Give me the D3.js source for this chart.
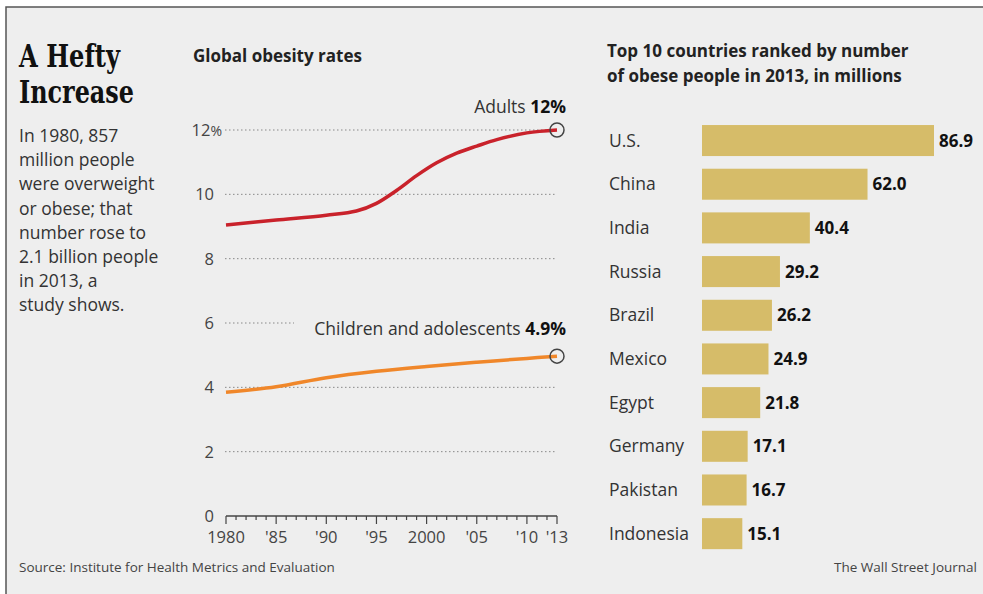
<!DOCTYPE html>
<html>
<head>
<meta charset="utf-8">
<script src="https://d3js.org/d3.v7.min.js"></script>
<style>
  body { margin: 0; background: #fff; }
  svg { display: block; }
  text { font-family: "Open Sans", Roboto, sans-serif; }
</style>
</head>
<body>
<svg id="canvas" width="983" height="594"></svg>
<script>
// line chart data (percent obese, global)
let years = [1980, 1985, 1990, 1993, 1995, 1997, 1999, 2001, 2003, 2005, 2007, 2010, 2013]
let adults = [9.05, 9.2, 9.35, 9.48, 9.72, 10.12, 10.58, 10.98, 11.28, 11.5, 11.7, 11.91, 12.0]
let childYears = [1980, 1985, 1990, 1995, 2000, 2005, 2010, 2013]
let children = [3.85, 4.02, 4.3, 4.5, 4.65, 4.78, 4.9, 4.97]
let yTicks = [0, 2, 4, 6, 8, 10, 12]
let xTicks = [1980, 1985, 1990, 1995, 2000, 2005, 2010, 2013]
let xTickLabels = ['1980', "'85", "'90", "'95", '2000', "'05", "'10", "'13"]

// bar chart data (millions of obese people, 2013)
let countries = ['U.S.', 'China', 'India', 'Russia', 'Brazil', 'Mexico', 'Egypt', 'Germany', 'Pakistan', 'Indonesia']
let obese = [86.9, 62.0, 40.4, 29.2, 26.2, 24.9, 21.8, 17.1, 16.7, 15.1]

let intro = ['In 1980, 857', 'million people', 'were overweight', 'or obese; that',
  'number rose to', '2.1 billion people', 'in 2013, a', 'study shows.']

let canvas = d3.select('#canvas')

// frame
canvas.append('rect').attr('x', 6).attr('y', 7).attr('width', 990).attr('height', 600)
  .attr('fill', '#eeeeee').attr('stroke', '#555').attr('stroke-width', 1.5)

// headline + intro
canvas.append('text').attr('x', 19).attr('y', 67).text('A Hefty')
  .style('font-family', '"DejaVu Serif", serif')
  .attr('textLength', 101).attr('lengthAdjust', 'spacingAndGlyphs')
  .attr('font-weight', 'bold').attr('font-size', 31).attr('fill', '#111')
canvas.append('text').attr('x', 19).attr('y', 103).text('Increase')
  .style('font-family', '"DejaVu Serif", serif')
  .attr('textLength', 115).attr('lengthAdjust', 'spacingAndGlyphs')
  .attr('font-weight', 'bold').attr('font-size', 31).attr('fill', '#111')

canvas.append('g').selectAll('text')
  .data(intro)
  .enter()
  .append('text')
  .attr('x', 19)
  .attr('y', (d, i) => 142 + i * 24.2)
  .attr('font-size', 17.5)
  .attr('fill', '#333')
  .text(d => d)

// ---- line chart ----
let x = d3.scaleLinear().domain([1980, 2013]).range([226, 557])
let y = d3.scaleLinear().domain([0, 12]).range([516, 130])

canvas.append('text').attr('x', 193).attr('y', 62).text('Global obesity rates')
  .attr('font-weight', 'bold').attr('font-size', 17).attr('fill', '#222')

let grid = canvas.append('g')
grid.selectAll('line')
  .data(yTicks.filter(d => d > 0))
  .enter()
  .append('line')
  .attr('x1', 225)
  .attr('x2', d => d === 6 ? 294 : 557)
  .attr('y1', d => y(d))
  .attr('y2', d => y(d))
  .attr('stroke', '#888')
  .attr('stroke-width', 1)
  .attr('stroke-dasharray', '1.5,2.5')

let yLab = canvas.append('g')
yLab.selectAll('text')
  .data(yTicks)
  .enter()
  .append('text')
  .attr('x', d => d === 12 ? 222 : 214)
  .attr('y', d => y(d) + 6)
  .attr('text-anchor', 'end')
  .attr('font-size', 16.5)
  .attr('fill', '#444')
  .each(function (d) {
    let t = d3.select(this)
    t.append('tspan').text(d)
    if (d === 12) t.append('tspan').attr('font-size', 14).text('%')
  })

// x axis with yearly minor ticks
let xAxis = canvas.append('g').attr('transform', 'translate(0,516)')
xAxis.append('line').attr('x1', x(1980)).attr('x2', x(2013))
  .attr('stroke', '#444').attr('stroke-width', 1.5)
xAxis.selectAll('line.tick')
  .data(d3.range(1980, 2014))
  .enter()
  .append('line')
  .attr('class', 'tick')
  .attr('x1', d => x(d))
  .attr('x2', d => x(d))
  .attr('y1', 0)
  .attr('y2', d => (d % 5 === 0 || d === 2013) ? 8 : 4)
  .attr('stroke', '#444')
  .attr('stroke-width', 1.2)
xAxis.selectAll('text')
  .data(xTicks)
  .enter()
  .append('text')
  .attr('x', d => x(d))
  .attr('y', 27)
  .attr('text-anchor', 'middle')
  .attr('font-size', 16.5)
  .attr('fill', '#444')
  .text((d, i) => xTickLabels[i])

let line = d3.line().curve(d3.curveCatmullRom.alpha(0.5))

canvas.append('path')
  .attr('d', line(years.map((yr, i) => [x(yr), y(adults[i])])))
  .attr('fill', 'none').attr('stroke', '#c9222b').attr('stroke-width', 3.5)
canvas.append('path')
  .attr('d', line(childYears.map((yr, i) => [x(yr), y(children[i])])))
  .attr('fill', 'none').attr('stroke', '#f0872a').attr('stroke-width', 3.5)

canvas.append('circle').attr('cx', x(2013)).attr('cy', y(adults[adults.length - 1])).attr('r', 7)
  .attr('fill', 'none').attr('stroke', '#444').attr('stroke-width', 1.5)
canvas.append('circle').attr('cx', x(2013)).attr('cy', y(children[children.length - 1])).attr('r', 7)
  .attr('fill', 'none').attr('stroke', '#444').attr('stroke-width', 1.5)

let lab1 = canvas.append('text').attr('x', 566).attr('y', 113).attr('text-anchor', 'end')
  .attr('font-size', 17.5).attr('fill', '#333')
lab1.append('tspan').text('Adults ')
lab1.append('tspan').attr('font-weight', 'bold').attr('fill', '#111').text('12%')

let lab2 = canvas.append('text').attr('x', 566).attr('y', 335).attr('text-anchor', 'end')
  .attr('font-size', 17.5).attr('fill', '#333')
lab2.append('tspan').text('Children and adolescents ')
lab2.append('tspan').attr('font-weight', 'bold').attr('fill', '#111').text('4.9%')

// ---- bar chart ----
canvas.append('text').attr('x', 607).attr('y', 57).text('Top 10 countries ranked by number')
  .attr('font-weight', 'bold').attr('font-size', 17).attr('fill', '#222')
canvas.append('text').attr('x', 607).attr('y', 82).text('of obese people in 2013, in millions')
  .attr('font-weight', 'bold').attr('font-size', 17).attr('fill', '#222')

let bx = d3.scaleLinear().domain([0, 86.9]).range([702, 934])
let by = d3.scaleBand().domain(countries).range([118.7, 555.5]).paddingInner(0.29).paddingOuter(0.145)

let bars = canvas.append('g')
bars.selectAll('rect')
  .data(countries)
  .enter()
  .append('rect')
  .attr('x', bx(0))
  .attr('y', d => by(d))
  .attr('width', (d, i) => bx(obese[i]) - bx(0))
  .attr('height', by.bandwidth())
  .attr('fill', '#d6bc69')

bars.selectAll('text.country')
  .data(countries)
  .enter()
  .append('text')
  .attr('class', 'country')
  .attr('x', 609)
  .attr('y', d => by(d) + by.bandwidth() / 2 + 6)
  .attr('font-size', 17.5)
  .attr('fill', '#333')
  .text(d => d)

bars.selectAll('text.val')
  .data(countries)
  .enter()
  .append('text')
  .attr('class', 'val')
  .attr('x', (d, i) => bx(obese[i]) + 5)
  .attr('y', d => by(d) + by.bandwidth() / 2 + 6)
  .attr('font-size', 17)
  .attr('font-weight', 'bold')
  .attr('fill', '#111')
  .text((d, i) => obese[i].toFixed(1))

// footer
canvas.append('text').attr('x', 19).attr('y', 572).text('Source: Institute for Health Metrics and Evaluation')
  .attr('font-size', 13.5).attr('fill', '#444')
canvas.append('text').attr('x', 977).attr('y', 572).attr('text-anchor', 'end').text('The Wall Street Journal')
  .attr('font-size', 13.5).attr('fill', '#444')
</script>
</body>
</html>
